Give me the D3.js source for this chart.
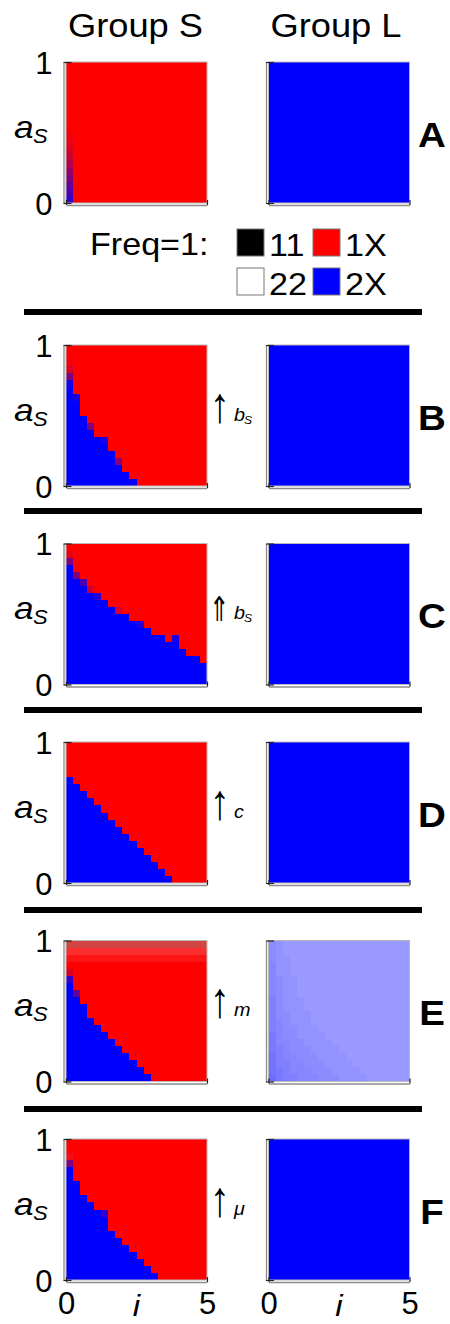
<!DOCTYPE html>
<html>
<head>
<meta charset="utf-8">
<script src="https://cdn.jsdelivr.net/npm/d3@7"></script>
<style>
body { margin: 0; background: #fff; }
svg text { font-family: Arial, "Liberation Sans", sans-serif; fill: #000; }
</style>
</head>
<body>
<div id="chart"></div>
<script>
// ---- data ----
// 20 x 20 cells, i from 0 to 5 (columns), a_S from 0 to 1 (rows, counted from the bottom)
var panels = ["A", "B", "C", "D", "E", "F"];
var arrows = ["", "\u2191", "\u21D1", "\u2191", "\u2191", "\u2191"];
var params = ["", "b", "b", "c", "m", "\u03BC"];
var paramSubs = ["", "S", "S", "", "", ""];

// Group S: how many cells of each column are pure 2X (blue), from the bottom up
var blueS_A = [0,0,0,0,0,0,0,0,0,0,0,0,0,0,0,0,0,0,0,0];
var blueS_B = [14,12,10,8,7,6,5,3,2,1,0,0,0,0,0,0,0,0,0,0];
var blueS_C = [17,15,14,13,12,12,11,10,10,9,8,8,7,7,6,6,5,4,4,3];
var blueS_D = [15,14,13,12,11,10,9,8,7,6,5,4,3,2,1,0,0,0,0,0];
var blueS_E = [14,12,11,9,8,7,6,5,4,3,2,1,0,0,0,0,0,0,0,0];
var blueS_F = [16,14,12,11,10,9,7,6,5,4,3,2,1,0,0,0,0,0,0,0];

// mixed cells: [column, row, share 1X, share 2X, share 22] (the rest is 11)
var mixS_A = [[0,0,0.2,0.8,0],[0,1,0.3,0.7,0],[0,2,0.4,0.6,0],[0,3,0.5,0.5,0],[0,4,0.6,0.4,0],
              [0,5,0.7,0.3,0],[0,6,0.78,0.22,0],[0,7,0.85,0.15,0],[0,8,0.9,0.1,0],[0,9,0.95,0.05,0]];
var mixS_B = [[0,14,0.1,0.9,0],[0,15,0.5,0.5,0],[0,16,0.85,0.15,0],[0,17,0.95,0.05,0],
              [1,12,0.1,0.9,0],[3,8,0.5,0.5,0],[5,6,0.1,0.9,0],[7,3,0.55,0.45,0]];
var mixS_C = [[0,17,0.5,0.5,0],[0,18,0.9,0.1,0],[1,15,0.5,0.5,0],[2,14,0.3,0.7,0],[3,13,0.8,0.2,0],
              [4,12,0.15,0.85,0],[7,10,0.8,0.2,0],[10,8,0.15,0.85,0],[15,6,0.1,0.9,0]];
var mixS_D = [];
var mixS_E = [[0,14,0.2,0.8,0],[0,15,0.85,0.15,0],[1,12,0.4,0.6,0]];
// top rows of panel E, group S: [row, share 1X, share 22] (the rest is 11)
var topRowsE = [[19, 0.55, 0.27], [18, 0.8, 0.18], [17, 0.9, 0.08]];
var mixS_F = [[0,16,0.5,0.5,0],[0,17,0.9,0.05,0.05],[5,9,0.2,0.8,0]];

// Group L: share of 2X per cell; only panel E is not pure 2X
// strings are rows from the top, one digit per column, share = 0.35 + 0.025 * digit
var blueL_E = [
  "43222222222222222222",
  "43222222222222222222",
  "43322222222222222222",
  "53322222222222222222",
  "53322222222222222222",
  "54332222222222222222",
  "54332222222222222222",
  "54332222222222222222",
  "64333222222222222222",
  "64333222222222222222",
  "64433322222222222222",
  "65433322222222222222",
  "65443332222222222222",
  "75443333222222222222",
  "75544333322222222222",
  "76544433332222222222",
  "86554443333222222222",
  "86655444333322222222",
  "87655544433332222222",
  "97665554443333222222"
];

var blueS = [blueS_A, blueS_B, blueS_C, blueS_D, blueS_E, blueS_F];
var mixS = [mixS_A, mixS_B, mixS_C, mixS_D, mixS_E, mixS_F];

// ---- layout ----
var nCells = 20;
var plotSize = 141;
var leftS = 66, leftL = 268.5;
var plotTops = [62, 345, 543.5, 742, 940.5, 1139];
var sepYs = [312, 511, 710, 910, 1109];
var stretch = 1.1;   // the picture's lettering is a bit wider than Arial

var svg = d3.select("#chart")
    .append("svg")
        .attr("width", 450)
        .attr("height", 1324);

function cellColor(f) {
    // f = {f1X, f2X, f22}; 11 is black so it adds nothing
    var r = Math.round(255 * Math.min(1, f.f1X + f.f22));
    var g = Math.round(255 * f.f22);
    var b = Math.round(255 * Math.min(1, f.f2X + f.f22));
    return d3.rgb(r, g, b).toString();
}

function addText(g, str, x, y, size, opts) {
    opts = opts || {};
    var sx = opts.sx || stretch;
    var t = g.append("text")
        .attr("transform", "translate(" + x + "," + y + ") scale(" + sx + ",1)")
        .attr("font-size", size)
        .style("text-anchor", opts.anchor || "start")
        .text(str);
    if (opts.italic) t.style("font-style", "italic");
    if (opts.bold) t.style("font-weight", "bold");
    if (opts.family) t.style("font-family", opts.family);
    if (opts.weight) t.style("font-weight", opts.weight);
    return t;
}

// column titles
addText(svg, "Group S", 135.5, 37, 33, {anchor: "middle"});
addText(svg, "Group L", 336, 37, 33, {anchor: "middle"});

function buildCells(p, group) {
    var cells = [];
    for (var c = 0; c < nCells; c++) {
        for (var r = 0; r < nCells; r++) {
            var f;
            if (group == "S") {
                f = r < blueS[p][c] ? {f1X: 0, f2X: 1, f22: 0} : {f1X: 1, f2X: 0, f22: 0};
                if (p == 4) {
                    topRowsE.forEach(function(t) {
                        if (t[0] == r) f = {f1X: t[1], f2X: 0, f22: t[2]};
                    });
                }
            } else {
                if (p == 4) {
                    var share = 0.35 + 0.025 * (+blueL_E[nCells - 1 - r][c]);
                    f = {f1X: 0, f2X: share, f22: 1 - share};
                } else {
                    f = {f1X: 0, f2X: 1, f22: 0};
                }
            }
            cells.push({c: c, r: r, f: f});
        }
    }
    if (group == "S") {
        mixS[p].forEach(function(m) {
            var cell = cells[m[0] * nCells + m[1]];
            cell.f = {f1X: m[2], f2X: m[3], f22: m[4]};
        });
    }
    return cells;
}

function drawPlot(p, group, left, top) {
    var g = svg.append("g");
    var x = d3.scaleLinear().domain([0, 5]).range([left, left + plotSize]);
    var y = d3.scaleLinear().domain([0, 1]).range([top + plotSize, top]);
    var dx = 5 / nCells, dy = 1 / nCells;

    g.selectAll("rect.cell")
        .data(buildCells(p, group))
        .enter().append("rect")
            .attr("class", "cell")
            .attr("x", function(d) { return x(d.c * dx); })
            .attr("y", function(d) { return y((d.r + 1) * dy); })
            .attr("width", function(d) { return x((d.c + 1) * dx) - x(d.c * dx); })
            .attr("height", function(d) { return y(d.r * dy) - y((d.r + 1) * dy); })
            .attr("shape-rendering", "crispEdges")
            .style("fill", function(d) { return cellColor(d.f); });

    // light frame of the array plot
    g.append("rect")
        .attr("x", x(0)).attr("y", y(1))
        .attr("width", plotSize).attr("height", plotSize)
        .style("fill", "none").style("stroke", "#b8b8b8").style("stroke-width", 1);

    // left axis
    var yAxis = g.append("g")
        .attr("transform", "translate(" + (left - 2.5) + ",0)")
        .call(d3.axisLeft(y).tickValues([0, 1]).tickSize(-8).tickSizeOuter(0).tickPadding(11)
            .tickFormat(group == "S" ? d3.format("d") : ""));
    // bottom axis
    var xAxis = g.append("g")
        .attr("transform", "translate(0," + (top + plotSize + 2) + ")")
        .call(d3.axisBottom(x).tickValues([0, 5]).tickSize(-5).tickSizeOuter(0).tickPadding(10)
            .tickFormat(p == 5 ? d3.format("d") : ""));
    [yAxis, xAxis].forEach(function(a) {
        a.select(".domain").style("stroke", "#8c8c8c").style("stroke-width", 1.3);
        a.selectAll(".tick line").style("stroke", "#222").style("stroke-width", 1.2);
        a.selectAll(".tick text").attr("font-size", 31).style("font-family", "Arial, 'Liberation Sans', sans-serif")
            .attr("fill", "#000");
    });
    yAxis.selectAll(".tick text").attr("dy", "0.36em");
    xAxis.selectAll(".tick text").attr("dy", "0.72em");

    if (group == "S") {
        var mid = top + plotSize / 2;
        addText(g, "a", 14, mid + 5, 32, {italic: true});
        addText(g, "S", 33, mid + 10, 20, {italic: true});
        if (arrows[p] != "") {
            if (p == 2) {
                addText(g, arrows[p], 209, mid + 7, 34, {sx: 0.72, weight: 200, family: "'DejaVu Sans', sans-serif"});
            } else {
                addText(g, arrows[p], 210, mid + 6, 50, {sx: 0.8, family: "'Liberation Sans', Arial, sans-serif"});
            }
            addText(g, params[p], 234, mid + 5, 18, {italic: true});
            if (paramSubs[p] != "") addText(g, paramSubs[p], 244, mid + 8, 11, {italic: true});
        }
    } else {
        addText(g, panels[p], 432, top + plotSize / 2 + 14, 35, {anchor: "middle", bold: true});
    }
    if (p == 5) {
        addText(g, "i", x(2.5), top + plotSize + 36, 30, {anchor: "middle", italic: true});
    }
}

panels.forEach(function(name, p) {
    drawPlot(p, "S", leftS, plotTops[p]);
    drawPlot(p, "L", leftL, plotTops[p]);
});

// legend under panel A
var legendShares = [["11", 0, 0, 0], ["1X", 1, 0, 0], ["22", 0, 0, 1], ["2X", 0, 1, 0]];
var legendPos = [[237, 229], [313, 229], [237, 268], [313, 268]];
var lg = svg.append("g");
addText(lg, "Freq=1:", 90, 255, 31);
legendShares.forEach(function(d, i) {
    lg.append("rect")
        .attr("x", legendPos[i][0]).attr("y", legendPos[i][1])
        .attr("width", 27).attr("height", 27)
        .style("fill", cellColor({f1X: d[1], f2X: d[2], f22: d[3]}))
        .style("stroke", "#777").style("stroke-width", 1);
    addText(lg, d[0], legendPos[i][0] + 32, legendPos[i][1] + 27, 31);
});

// thick rules between the panels
svg.selectAll("rect.sep")
    .data(sepYs)
    .enter().append("rect")
        .attr("class", "sep")
        .attr("x", 24).attr("y", function(d) { return d - 3; })
        .attr("width", 398).attr("height", 6)
        .style("fill", "#000");
</script>
</body>
</html>
